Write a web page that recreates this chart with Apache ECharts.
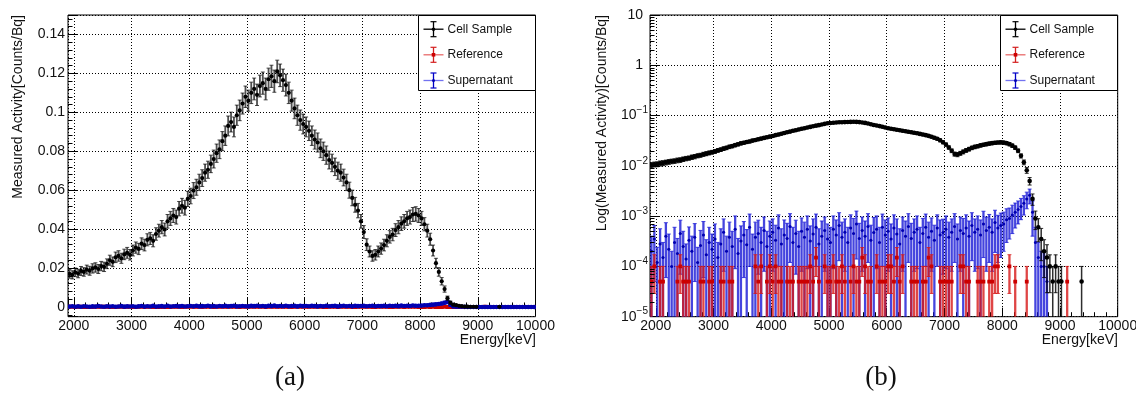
<!DOCTYPE html>
<html>
<head>
<meta charset="utf-8">
<script src="https://cdn.jsdelivr.net/npm/echarts@6.0.0/dist/echarts.min.js"></script>
<style>
html,body{margin:0;padding:0;background:#fff;}
#chart{width:1136px;height:402px;}
</style>
</head>
<body>
<div id="chart"></div>
<script>
// ---------------- data ----------------
const binStart = 1900;          // keV, left edge of first bin
const binWidth = 50;            // keV
const xTickValues = [2000, 3000, 4000, 5000, 6000, 7000, 8000, 9000, 10000];
const yTickLinear = [0, 0.02, 0.04, 0.06, 0.08, 0.1, 0.12, 0.14];
const logDecades = [-5, -4, -3, -2, -1, 0, 1];
const seriesNames = ['Cell Sample', 'Reference', 'Supernatant'];
const panelCaptions = ['(a)', '(b)'];
const xTitle = 'Energy[keV]';
const yTitles = ['Measured Activity[Counts/Bq]', 'Log(Measured Activity)[Counts/Bq]'];

// Cell Sample, panel (a), units of 1e-4 Counts/Bq
const cellLinear_e4 = [
 170,165,178,172,185,180,192,186,198,203,
 195,210,206,222,240,232,255,262,250,270,
 278,268,290,305,298,325,318,345,352,340,
 375,392,410,398,440,455,470,462,505,520,
 510,555,570,598,615,640,662,690,705,735,
 760,790,810,852,880,930,950,925,985,1010,
 1045,1080,1060,1100,1120,1090,1135,1150,1120,1170,
 1185,1160,1210,1190,1165,1140,1100,1060,1020,985,
 960,940,925,905,880,860,845,815,800,780,
 755,740,720,700,690,665,640,600,560,525,
 495,440,385,320,285,262,268,285,300,318,
 340,360,372,395,410,428,440,455,462,475,
 478,470,455,425,392,348,290,225,180,132,
 92,45,22,12,9,6,4,2,1.5,1,
 1,0.5,0,0,0,0,0,0,0,0.5,
 0,0,0,0,0,0,0,0,0,0,
 0,0];
const cellLinearErr_e4 = [
 22,21,22,22,23,22,23,23,24,24,
 23,24,24,25,26,25,27,27,26,27,
 28,27,28,29,29,30,30,31,31,31,
 32,33,34,33,35,36,36,36,37,38,
 38,39,40,41,41,42,43,44,44,45,
 46,47,48,49,50,51,51,51,52,53,
 54,55,54,55,56,55,56,57,56,57,
 57,57,58,58,57,56,55,54,53,52,
 52,51,51,50,50,49,49,48,47,47,
 46,45,45,44,44,43,42,41,40,38,
 37,35,33,30,28,27,27,28,29,30,
 31,32,32,33,34,35,35,36,36,36,
 37,36,36,34,33,31,28,25,22,19,
 16,11,8,6,5,4,3.3,2.4,2,1.7,
 1.7,1.2,0,0,0,0,0,0,0,1.2,
 0,0,0,0,0,0,0,0,0,0,
 0,0];
// Cell Sample, panel (b), units of 1e-4 Counts/Bq
const cellLog_e4 = [
 104,107,108,112,114,117,120,123,125,129,
 131,136,140,143,149,153,159,163,170,175,
 181,187,194,203,210,220,228,239,247,258,
 268,280,288,298,306,318,326,338,348,360,
 370,382,392,408,420,436,450,466,480,498,
 512,530,545,560,578,595,612,630,645,665,
 685,705,712,722,728,735,738,742,746,748,
 752,748,742,730,715,695,670,650,635,618,
 598,578,560,548,535,522,510,498,487,476,
 465,455,444,432,420,408,395,380,362,345,
 322,295,265,232,200,172,168,178,190,203,
 215,228,238,246,255,263,270,277,283,288,
 291,293,290,283,270,252,230,200,158,118,
 82,50,22,9,6,3.5,2,1.5,1,0.5,
 1,0.5,0.5,0,0,0,0,0,0,0.5,
 0,0,0,0,0,0,0,0,0,0,
 0,0];
const cellLogErr_e4 = [
 12,12,12,13,13,13,13,13,13,14,
 14,14,14,14,15,15,15,15,16,16,
 16,16,17,17,17,18,18,19,19,19,
 20,20,20,21,21,21,22,22,22,23,
 23,23,24,24,25,25,25,26,26,27,
 27,28,28,28,29,29,30,30,30,31,
 31,32,32,32,32,33,33,33,33,33,
 33,33,33,32,32,32,31,31,30,30,
 29,29,28,28,28,27,27,27,26,26,
 26,26,25,25,25,24,24,23,23,22,
 22,21,20,18,17,16,16,16,17,17,
 18,18,19,19,19,19,20,20,20,20,
 20,21,20,20,20,19,18,17,15,13,
 11,8.5,5.6,3.6,2.9,2.2,1.4,1.2,0.7,0.5,
 0.7,0.5,0.5,0,0,0,0,0,0,0.5,
 0,0,0,0,0,0,0,0,0,0,
 0,0];
// Reference, units of 1e-5 Counts/Bq
const reference_e5 = [
 5,10,0,5,5,0,0,0,0,5,
 10,5,5,5,0,0,0,5,5,0,
 5,5,0,0,5,5,0,5,5,0,
 0,0,0,0,0,0,10,5,10,0,
 5,10,5,10,5,5,0,5,5,5,
 0,5,5,5,5,10,5,15,5,0,
 10,5,5,10,5,5,10,5,0,5,
 10,5,5,15,10,5,5,0,10,5,
 5,5,10,10,5,15,5,10,0,0,
 5,5,5,0,5,5,15,10,0,0,
 5,5,5,5,5,0,0,10,10,5,
 5,0,0,5,5,5,0,5,5,10,
 10,0,0,0,10,0,5,0,0,0,
 5,0,0,0,0,0,0,0,0,0,
 0,0,0,0,5,0,0,0,0,0,
 0,0,0,0,0,0,0,0,0,0,
 0,0];
const referenceErr_e5 = [
 5,7.1,0,5,5,0,0,0,0,5,
 7.1,5,5,5,0,0,0,5,5,0,
 5,5,0,0,5,5,0,5,5,0,
 0,0,0,0,0,0,7.1,5,7.1,0,
 5,7.1,5,7.1,5,5,0,5,5,5,
 0,5,5,5,5,7.1,5,8.7,5,0,
 7.1,5,5,7.1,5,5,7.1,5,0,5,
 7.1,5,5,8.7,7.1,5,5,0,7.1,5,
 5,5,7.1,7.1,5,8.7,5,7.1,0,0,
 5,5,5,0,5,5,8.7,7.1,0,0,
 5,5,5,5,5,0,0,7.1,7.1,5,
 5,0,0,5,5,5,0,5,5,7.1,
 7.1,0,0,0,7.1,0,5,0,0,0,
 5,0,0,0,0,0,0,0,0,0,
 0,0,0,0,5,0,0,0,0,0,
 0,0,0,0,0,0,0,0,0,0,
 0,0];
// Supernatant, units of 1e-5 Counts/Bq
const supernatant_e5 = [
 20,35,12,28,15,40,22,10,30,18,45,25,14,33,20,38,12,26,42,17,30,22,
 35,15,28,48,20,38,25,55,18,32,42,27,60,22,38,45,30,52,25,40,
 48,33,58,28,42,36,62,30,45,25,50,38,55,32,44,60,28,40,52,35,
 30,55,42,65,38,48,30,58,45,70,36,52,40,62,33,47,55,30,60,42,
 50,35,58,44,28,52,40,62,36,48,55,30,45,60,38,50,33,58,42,47,
 55,38,48,62,35,52,45,58,40,65,48,55,42,70,52,60,48,75,58,65,
 70,85,90,105,120,135,155,180,220,260,120,30,15,10,10,5,
 0,0,0,0,0,0,0,0,0,0,0,0,0,0,0,0,0,0,0,0,0,0,0,0];
const supernatantErr_e5 = [
 20,30,12,28,15,34,22,10,30,18,38,25,14,28,20,33,12,26,36,17,30,22,
 35,15,28,40,20,38,25,46,18,32,36,27,50,22,38,38,30,44,25,40,
 40,33,48,28,42,36,50,30,38,25,42,38,46,32,44,50,28,40,44,35,
 30,46,42,52,38,40,30,48,45,56,36,44,40,50,33,47,46,30,50,42,
 42,35,48,44,28,44,40,50,36,40,46,30,45,50,38,42,33,48,42,40,
 46,38,40,50,35,44,45,48,40,52,40,46,42,55,44,48,40,56,46,50,
 50,55,55,60,62,65,70,75,80,85,80,30,15,10,10,5,
 0,0,0,0,0,0,0,0,0,0,0,0,0,0,0,0,0,0,0,0,0,0,0,0];

// ---------------- helpers ----------------
const FONT = '"Liberation Sans", Arial, Helvetica, sans-serif';
const binCenter = i => binStart + binWidth * (i + 0.5);
function toData(vals, errs, unit, skipZero) {
  const out = [];
  vals.forEach((v, i) => {
    if (skipZero && v <= 0) return;
    out.push([binCenter(i), v * unit, errs[i] * unit]);
  });
  return out;
}
const ST = {
  cell: { bar: 'rgba(0,0,0,0.75)', fill: '#000', shape: 'circle', r: 1.8, lw: 1.2, legH: '#000', legV: '#000' },
  ref:  { bar: 'rgba(215,22,22,0.8)', fill: '#cc0000', shape: 'square', r: 1.9, lw: 2.3, legH: '#e86a6a', legV: '#d42020' },
  sup:  { bar: 'rgba(28,28,215,0.82)', fill: '#0000b0', shape: 'circle', r: 1.5, lw: 2.3, legH: '#7272f0', legV: '#0000c8' }
};
const STA = { // panel (a) marks
  cell: Object.assign({}, ST.cell, { r: 2.1, bar: 'rgba(10,10,10,0.72)', lw: 1.8 }),
  ref:  Object.assign({}, ST.ref,  { r: 2.0, lw: 1.2 }),
  sup:  Object.assign({}, ST.sup,  { r: 2.3, lw: 1.4, bar: 'rgba(20,20,225,0.85)' })
};
const STB = { // panel (b) marks
  cell: Object.assign({}, ST.cell, { r: 2.3, bar: 'rgba(0,0,0,0.82)', lw: 1.5 }),
  ref:  ST.ref,
  sup:  ST.sup
};
const LOG_MIN = Math.pow(10, logDecades[0]);

function markerEl(st, cx, cy) {
  if (st.shape === 'square') {
    return { type: 'rect', shape: { x: cx - st.r, y: cy - st.r, width: 2 * st.r, height: 2 * st.r }, style: { fill: st.fill } };
  }
  return { type: 'circle', shape: { cx: cx, cy: cy, r: st.r }, style: { fill: st.fill } };
}
function errRender(st, isLog) {
  return function (params, api) {
    const x = api.value(0), v = api.value(1), e = api.value(2);
    const c = api.coord([x, v]);
    const hi = api.coord([x, v + e]);
    let lo = v - e, clamped = false;
    if (isLog && lo <= LOG_MIN) { lo = LOG_MIN / 100; clamped = true; }
    const lp = api.coord([x, lo]);
    const xl = api.coord([x - binWidth / 2, v])[0];
    const xr = api.coord([x + binWidth / 2, v])[0];
    const ls = { stroke: st.bar, lineWidth: st.lw };
    const cs = { stroke: st.bar, lineWidth: 1 };
    const ch = [];
    if (e > 0) {
      ch.push({ type: 'line', shape: { x1: c[0], y1: lp[1], x2: c[0], y2: hi[1] }, style: ls });
      ch.push({ type: 'line', shape: { x1: c[0] - 2, y1: hi[1], x2: c[0] + 2, y2: hi[1] }, style: cs });
      if (!clamped) ch.push({ type: 'line', shape: { x1: c[0] - 2, y1: lp[1], x2: c[0] + 2, y2: lp[1] }, style: cs });
    }
    ch.push({ type: 'line', shape: { x1: xl, y1: c[1], x2: xr, y2: c[1] }, style: cs });
    ch.push(markerEl(st, c[0], c[1]));
    return { type: 'group', children: ch };
  };
}
function errSeries(name, st, data, gi, isLog) {
  return {
    type: 'custom', name: name, xAxisIndex: gi, yAxisIndex: gi, data: data,
    renderItem: errRender(st, isLog), clip: true, silent: true, animation: false,
    encode: { x: 0, y: 1 }
  };
}

// minor ticks for the log axis (2..9 x 10^n)
const logMinorTicks = [];
for (let k = 0; k < logDecades.length - 1; k++) {
  for (let m = 2; m <= 9; m++) logMinorTicks.push([binStart, m * Math.pow(10, logDecades[k])]);
}

function fmtX(v) {
  const r = Math.round(v);
  return (Math.abs(v - r) < 1e-6 && xTickValues.indexOf(r) >= 0) ? String(r) : '';
}
function fmtYLin(v) {
  for (const t of yTickLinear) if (Math.abs(v - t) < 1e-9) return String(t);
  return '';
}
function fmtYLog(v) {
  const k = Math.round(Math.log10(v));
  if (logDecades.indexOf(k) < 0) return '';
  if (k === 0) return '{b|1}{sp| }';
  if (k === 1) return '{b|10}{sp| }';
  return '{b|10}{sup|' + (k < 0 ? '\u2212' : '') + Math.abs(k) + '}';
}

const gridCommon = { show: true, borderColor: '#000', borderWidth: 1, backgroundColor: 'rgba(0,0,0,0)', containLabel: false, outerBoundsMode: 'none' };
const grids = [
  Object.assign({ left: 68, top: 15, width: 467.5, height: 301.7 }, gridCommon),
  Object.assign({ left: 650, top: 15, width: 467.7, height: 301.7 }, gridCommon)
];
const dotted = { color: '#000', width: 1, type: [1, 2] };
function xAxisDef(gi) {
  return {
    type: 'value', gridIndex: gi, min: binStart, max: xTickValues[xTickValues.length - 1], splitNumber: 8,
    axisLine: { show: false },
    axisTick: { show: true, inside: true, length: 9, lineStyle: { color: '#000', width: 1 } },
    minorTick: { show: true, splitNumber: 5, length: 4.5, lineStyle: { color: '#000', width: 1 } },
    splitLine: { show: true, lineStyle: dotted },
    axisLabel: { show: true, margin: 2, color: '#111', fontSize: 14, fontFamily: FONT, hideOverlap: false, formatter: fmtX }
  };
}
const yAxes = [
  {
    type: 'value', gridIndex: 0, min: -0.005, max: 0.15, splitNumber: 8,
    axisLine: { show: false },
    axisTick: { show: true, inside: true, length: 9, lineStyle: { color: '#000', width: 1 } },
    minorTick: { show: true, splitNumber: 5, length: 4.5, lineStyle: { color: '#000', width: 1 } },
    splitLine: { show: true, lineStyle: dotted },
    axisLabel: { show: true, margin: 3, color: '#111', fontSize: 14, fontFamily: FONT, hideOverlap: false, formatter: fmtYLin }
  },
  {
    type: 'log', logBase: 10, gridIndex: 1, min: LOG_MIN, max: Math.pow(10, logDecades[logDecades.length - 1]),
    axisLine: { show: false },
    axisTick: { show: true, inside: true, length: 9, lineStyle: { color: '#000', width: 1 } },
    splitLine: { show: true, lineStyle: dotted },
    axisLabel: {
      show: true, margin: 2, color: '#111', fontFamily: FONT, hideOverlap: false, formatter: fmtYLog,
      rich: {
        b: { fontSize: 14, fontFamily: FONT, color: '#111', lineHeight: 20, verticalAlign: 'middle' },
        sup: { fontSize: 10, fontFamily: FONT, color: '#111', lineHeight: 11, verticalAlign: 'top' },
        sp: { fontSize: 10, width: 5, lineHeight: 11 }
      }
    }
  }
];

// legend + texts
function legendEls(x0, y0) {
  const w = 117, h = 75, rowY = [13.7, 39.3, 65];
  const defs = [ST.cell, ST.ref, ST.sup];
  const els = [{ type: 'rect', z: 100, shape: { x: x0, y: y0, width: w, height: h }, style: { fill: '#fff', stroke: '#000', lineWidth: 1 } }];
  seriesNames.forEach((name, k) => {
    const st = defs[k], cx = x0 + 15, cy = y0 + rowY[k];
    els.push({ type: 'line', z: 101, shape: { x1: cx - 10, y1: cy, x2: cx + 10, y2: cy }, style: { stroke: st.legH, lineWidth: 1.3 } });
    els.push({ type: 'line', z: 101, shape: { x1: cx, y1: cy - 7.5, x2: cx, y2: cy + 7.5 }, style: { stroke: st.legV, lineWidth: 1.3 } });
    els.push({ type: 'line', z: 101, shape: { x1: cx - 3, y1: cy - 7.5, x2: cx + 3, y2: cy - 7.5 }, style: { stroke: st.legV, lineWidth: 1.2 } });
    els.push({ type: 'line', z: 101, shape: { x1: cx - 3, y1: cy + 7.5, x2: cx + 3, y2: cy + 7.5 }, style: { stroke: st.legV, lineWidth: 1.2 } });
    const m = markerEl(Object.assign({}, st, { r: Math.min(st.r, 1.8) }), cx, cy); m.z = 102; els.push(m);
    els.push({ type: 'text', z: 102, x: x0 + 29, y: cy, style: { text: name, font: '12px ' + FONT, fill: '#111', align: 'left', verticalAlign: 'middle' } });
  });
  return els;
}
function textEl(txt, x, y, opts) {
  return Object.assign({ type: 'text', z: 100, x: x, y: y,
    style: { text: txt, font: (opts.size || 14) + 'px ' + (opts.family || FONT), fill: '#111', align: opts.align || 'center', verticalAlign: 'middle' } },
    opts.rot ? { rotation: opts.rot } : {});
}
const SERIF = '"Liberation Serif", "DejaVu Serif", serif';
const graphics = [].concat(
  legendEls(418.5, 15.5),
  legendEls(1000.5, 15.5),
  [
    textEl(yTitles[0], 18, 15, { align: 'right', rot: Math.PI / 2 }),
    textEl(yTitles[1], 602, 15, { align: 'right', rot: Math.PI / 2 }),
    textEl(xTitle, 536, 340, { align: 'right' }),
    textEl(xTitle, 1118, 340, { align: 'right' }),
    textEl(panelCaptions[0], 290, 378, { size: 27, family: SERIF }),
    textEl(panelCaptions[1], 881, 378, { size: 27, family: SERIF })
  ]
);

const option = {
  animation: false,
  backgroundColor: '#fff',
  grid: grids,
  xAxis: [xAxisDef(0), xAxisDef(1)],
  yAxis: yAxes,
  series: [
    errSeries(seriesNames[1], STA.ref, toData(reference_e5, referenceErr_e5, 1e-5, false), 0, false),
    errSeries(seriesNames[2], STA.sup, toData(supernatant_e5, supernatantErr_e5, 1e-5, false), 0, false),
    errSeries(seriesNames[0], STA.cell, toData(cellLinear_e4, cellLinearErr_e4, 1e-4, true), 0, false),
    errSeries(seriesNames[2], STB.sup, toData(supernatant_e5, supernatantErr_e5, 1e-5, true), 1, true),
    errSeries(seriesNames[1], STB.ref, toData(reference_e5, referenceErr_e5, 1e-5, true), 1, true),
    errSeries(seriesNames[0], STB.cell, toData(cellLog_e4, cellLogErr_e4, 1e-4, true), 1, true),
    {
      type: 'custom', xAxisIndex: 1, yAxisIndex: 1, data: logMinorTicks, silent: true, clip: false, z: 5,
      encode: { x: 0, y: 1 },
      renderItem: function (params, api) {
        const p = api.coord([api.value(0), api.value(1)]);
        return { type: 'line', shape: { x1: p[0], y1: Math.round(p[1]) + 0.5, x2: p[0] + 4.5, y2: Math.round(p[1]) + 0.5 }, style: { stroke: '#000', lineWidth: 1 } };
      }
    }
  ],
  graphic: { elements: graphics }
};
const chart = echarts.init(document.getElementById('chart'), null, { renderer: 'canvas' });
chart.setOption(option);
</script>
</body>
</html>
